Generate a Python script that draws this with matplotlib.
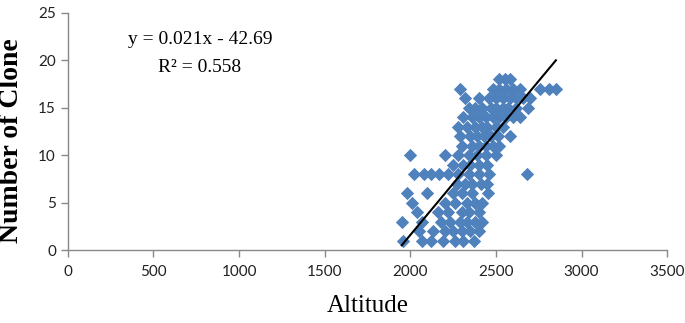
import matplotlib
matplotlib.use("Agg")
import matplotlib.pyplot as plt

# Number of clones (rows) and altitudes observed at each clone count
rows = {
    18: [2520, 2550, 2580],
    17: [2290, 2480, 2520, 2560, 2600, 2640, 2760, 2810, 2850],
    16: [2320, 2400, 2460, 2500, 2540, 2580, 2620, 2660, 2700],
    15: [2340, 2380, 2420, 2470, 2500, 2540, 2570, 2620, 2690],
    14: [2310, 2360, 2400, 2440, 2480, 2520, 2560, 2600, 2640],
    13: [2280, 2330, 2380, 2420, 2450, 2500, 2540],
    12: [2290, 2350, 2390, 2430, 2470, 2510, 2580],
    11: [2300, 2360, 2400, 2440, 2480, 2520],
    10: [2000, 2200, 2280, 2340, 2390, 2440, 2500],
    9: [2250, 2310, 2350, 2400, 2450],
    8: [2020, 2080, 2120, 2170, 2220, 2280, 2340, 2400, 2460, 2680],
    7: [2270, 2320, 2360, 2410, 2450],
    6: [1980, 2100, 2250, 2300, 2360, 2455],
    5: [2010, 2200, 2260, 2330, 2380, 2420],
    4: [2040, 2160, 2220, 2300, 2340, 2400],
    3: [1950, 2070, 2180, 2230, 2290, 2330, 2380, 2420],
    2: [2050, 2130, 2200, 2250, 2300, 2350, 2400],
    1: [1960, 2070, 2120, 2190, 2260, 2310, 2370],
}
altitude = [x for y, xs in rows.items() for x in xs]
clones = [y for y, xs in rows.items() for x in xs]

trend_x = [1950, 2850]
trend_y = [0.5, 20.0]

x_ticks = [0, 500, 1000, 1500, 2000, 2500, 3000, 3500]
y_ticks = [0, 5, 10, 15, 20, 25]

fig = plt.figure(figsize=(6.85, 3.23), dpi=100)
ax = fig.add_axes([0.099, 0.226, 0.875, 0.734])

ax.scatter(altitude, clones, marker="D", s=46, color="#4F81BD", linewidths=0, zorder=2)
ax.plot(trend_x, trend_y, color="black", lw=1.5, zorder=3)

ax.set_xlim(0, 3500)
ax.set_ylim(0, 25)
ax.set_xticks(x_ticks)
ax.set_yticks(y_ticks)
for s in ["top", "right"]:
    ax.spines[s].set_visible(False)
for s in ["left", "bottom"]:
    ax.spines[s].set_color("#898989")
    ax.spines[s].set_linewidth(1.0)
ax.tick_params(axis="both", direction="out", color="#898989", length=5, width=1,
               labelsize=11, labelcolor="#222222")
ax.tick_params(axis="x", pad=6)
for lab in ax.get_xticklabels() + ax.get_yticklabels():
    lab.set_family("Lato")

ax.set_xlabel("Altitude", fontsize=18, family="Liberation Serif", labelpad=11)
ax.set_ylabel("Number of Clone", fontsize=20, family="Liberation Serif",
              fontweight="bold", labelpad=6)
ax.yaxis.set_label_coords(-0.073, 0.46)

ax.text(771, 22.2, "y = 0.021x - 42.69", fontsize=14, family="Liberation Serif",
        ha="center", va="center")
ax.text(771, 19.2, "R² = 0.558", fontsize=14, family="Liberation Serif",
        ha="center", va="center")

fig.savefig("out.png", dpi=100)
